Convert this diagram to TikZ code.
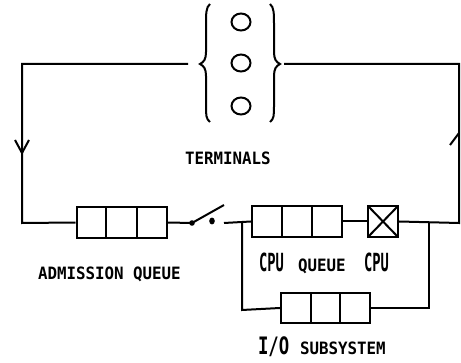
\documentclass[tikz,border=0pt]{standalone}
\usepackage{fontspec}
\newfontfamily\smallplot[FakeStretch=0.93]{DejaVu Sans Mono}
\newfontfamily\bigplot[FakeStretch=0.55]{DejaVu Sans Mono}
\newfontfamily\ioplot[FakeStretch=0.72]{DejaVu Sans Mono}
\usetikzlibrary{calc,shapes.geometric}
\begin{document}
\begin{tikzpicture}[x=1pt,y=-1pt,
  line width=2pt,
  queue/.style={draw, line width=2pt, minimum width=90pt, minimum height=31pt, inner sep=0pt,
    path picture={\foreach \f in {0.3333,0.6667}{\draw[line width=2pt]
      ($(path picture bounding box.north west)!\f!(path picture bounding box.north east)$) --
      ($(path picture bounding box.south west)!\f!(path picture bounding box.south east)$);}}},
  server/.style={draw, line width=2pt, minimum width=30pt, minimum height=31pt, inner sep=0pt,
    path picture={\draw[line width=2pt] (path picture bounding box.north west) -- (path picture bounding box.south east)
      (path picture bounding box.north east) -- (path picture bounding box.south west);}},
  term/.style={draw, line width=2pt, ellipse, minimum width=19pt, minimum height=17pt, inner sep=0pt},
  smalltxt/.style={font=\smallplot\bfseries\fontsize{17}{17}\selectfont, inner sep=0pt, anchor=base west},
  bigtxt/.style={font=\bigplot\bfseries\fontsize{25}{25}\selectfont, inner sep=0pt, anchor=base west},
  iotxt/.style={font=\ioplot\bfseries\fontsize{24}{24}\selectfont, inner sep=0pt, anchor=base west}
]
\useasboundingbox (0,0) rectangle (461,363);

% terminals
\node[term] (t1) at (241,22) {};
\node[term] (t2) at (241,63) {};
\node[term] (t3) at (241,106) {};
\draw (210,4) .. controls (206,7) and (206,14) .. (206,24) -- (206,52)
  .. controls (206,59) and (204,62) .. (200,64)
  .. controls (204,66) and (206,69) .. (206,76) -- (206,106)
  .. controls (206,115) and (206,119) .. (210,122);
\draw (270,4) .. controls (274,7) and (274,14) .. (274,24) -- (274,52)
  .. controls (274,59) and (276,62) .. (280,64)
  .. controls (276,66) and (274,69) .. (274,76) -- (274,106)
  .. controls (274,115) and (274,119) .. (270,122);

% queues and server
\node[queue] (aq) at (121.5,222.5) {};
\node[queue] (cq) at (297,221.5) {};
\node[server] (cpu) at (383,221.5) {};
\node[queue, minimum width=89pt, minimum height=30pt] (io) at (325.5,308) {};

% coordinates
\coordinate (tl) at (188,64);
\coordinate (tr) at (284,64);
\coordinate (c1) at (22,64);
\coordinate (c2) at (22,223);
\coordinate (c3) at (459,64);
\coordinate (c4) at (459,223);
\coordinate (sw1) at (192,223);
\coordinate (swend) at (224,205);
\coordinate (sw2) at (224,223);
\coordinate (j1) at (242,223);
\coordinate (j1b) at (242,310);
\coordinate (j2) at (429,223);
\coordinate (j2b) at (429,308);

% main loop
\draw (tl) -- (c1) -- (c2) -- (aq.west);
\draw (aq.east) -- (sw1);
\fill (sw1) circle (2.8pt);
\draw (sw1) -- (swend);
\fill (212,221) ellipse (2.8pt and 3.4pt);
\draw (sw2) -- (cq.west);
\draw (cq.east) -- (cpu.west);
\draw (cpu.east) -- (c4) -- (c3) -- (tr);

% I/O loop
\draw (j1) -- (j1b) -- (io.west);
\draw (io.east) -- (j2b) -- (j2);

% arrowheads
\draw (15,140) -- (22,153) -- (29,140);
\draw (450,145) -- (459,133);

% labels
\node[smalltxt] (lterm) at (184,165) {TERMINALS};
\node[smalltxt] (ladm) at (37,280) {ADMISSION QUEUE};
\node[bigtxt] (lcpu1) at (258,272) {CPU};
\node[smalltxt] (lq) at (297,272) {QUEUE};
\node[bigtxt] (lcpu2) at (363,272) {CPU};
\node[iotxt] (lio) at (257,355) {I/O};
\node[smalltxt] (lsub) at (299,355) {SUBSYSTEM};
\end{tikzpicture}
\end{document}
